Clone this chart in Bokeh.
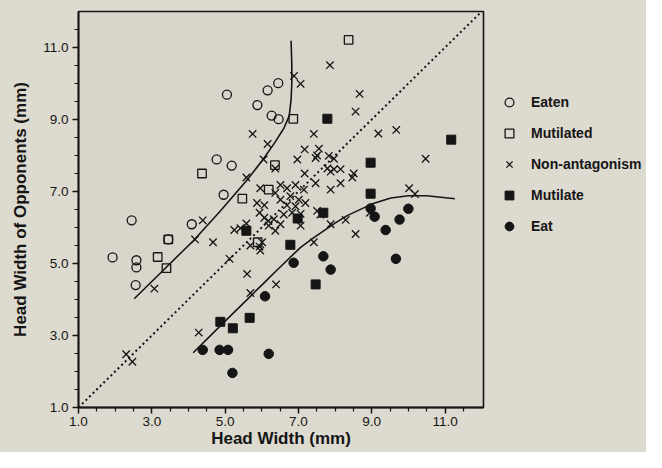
from bokeh.plotting import figure
from bokeh.layouts import row
from bokeh.models import Legend, LegendItem, FixedTicker, PrintfTickFormatter, Range1d
from bokeh.embed import file_html
from bokeh.resources import INLINE

# ---------------- data ----------------
eaten_x = [1.93, 2.45, 2.58, 2.58, 2.56, 3.45, 4.09, 4.77, 5.18, 4.96, 5.05, 5.88, 6.16, 6.45, 6.27, 6.46]
eaten_y = [5.17, 6.20, 5.09, 4.89, 4.40, 5.67, 6.09, 7.89, 7.72, 6.91, 9.69, 9.40, 9.81, 10.01, 9.11, 9.01]

mutilated_x = [3.16, 3.40, 3.45, 4.37, 5.47, 5.89, 6.19, 6.36, 6.86, 8.37]
mutilated_y = [5.18, 4.87, 5.67, 7.50, 6.80, 5.59, 7.05, 7.73, 9.02, 11.21]

nonant_x = [2.30, 2.47, 3.07, 4.18, 4.39, 4.67, 4.28, 5.12, 5.60, 5.69, 6.39, 5.94, 5.25, 5.42,
            5.58, 5.94, 6.07, 6.33, 6.18, 5.75, 6.16, 6.05, 6.37, 5.58, 7.42, 7.17, 6.97, 7.47,
            7.51, 7.83, 7.97, 7.79, 7.97, 7.17, 7.47, 7.88, 5.96, 6.37, 6.51, 6.69, 6.92, 7.15,
            6.78, 7.01, 6.51, 6.69, 6.92, 7.19, 6.83, 7.06, 6.60, 5.87, 6.51, 6.37, 6.07, 5.69,
            6.01, 5.96, 7.06, 7.60, 7.42, 7.88, 7.86, 6.88, 7.06, 8.67, 8.56, 9.18, 9.67, 7.56,
            7.88, 8.15, 8.51, 8.47, 8.15, 10.47, 10.02, 10.18, 7.51, 8.29, 8.56, 8.95, 6.19]
nonant_y = [2.48, 2.27, 4.30, 5.67, 6.20, 5.59, 3.08, 5.13, 4.71, 4.18, 4.42, 5.47, 5.93, 5.98,
            6.11, 6.41, 6.62, 6.23, 6.18, 8.60, 8.32, 7.89, 7.64, 7.39, 8.60, 8.17, 7.89, 7.93,
            8.00, 7.99, 7.91, 7.64, 7.62, 7.50, 7.23, 7.05, 7.09, 6.96, 7.18, 7.09, 7.18, 7.05,
            6.87, 6.77, 6.77, 6.62, 6.59, 6.68, 6.41, 6.38, 6.36, 6.68, 6.09, 5.91, 6.27, 5.50,
            5.59, 5.36, 6.05, 6.36, 5.59, 6.09, 10.51, 10.21, 9.99, 9.71, 9.22, 8.61, 8.71, 8.19,
            7.55, 7.62, 7.50, 7.39, 7.23, 7.91, 7.09, 6.93, 6.46, 6.21, 5.82, 6.41, 6.05]

mutilate_x = [4.87, 5.21, 5.67, 5.58, 6.78, 6.98, 7.47, 7.68, 7.79, 8.97, 8.97, 11.17]
mutilate_y = [3.38, 3.20, 3.49, 5.91, 5.52, 6.25, 4.42, 6.41, 9.02, 7.80, 6.94, 8.44]

eat_x = [4.39, 4.85, 5.08, 5.20, 6.19, 6.09, 6.87, 7.68, 7.88, 8.97, 9.08, 9.38, 9.76, 10.00, 9.66]
eat_y = [2.60, 2.60, 2.60, 1.96, 2.49, 4.09, 5.02, 5.20, 4.83, 6.53, 6.30, 5.93, 6.22, 6.52, 5.13]

upper_curve_x = [2.52, 3.30, 4.14, 4.87, 5.60, 6.05, 6.35, 6.60, 6.75, 6.80, 6.82, 6.82, 6.80]
upper_curve_y = [4.02, 4.80, 5.64, 6.46, 7.32, 7.91, 8.35, 8.75, 9.10, 9.55, 10.0, 10.5, 11.19]

lower_curve_x = [4.13, 5.00, 6.00, 6.51, 7.06, 7.42, 8.00, 8.33, 9.00, 9.52, 10.00, 10.50, 11.27]
lower_curve_y = [2.52, 3.40, 4.40, 4.91, 5.45, 5.72, 6.12, 6.33, 6.65, 6.82, 6.88, 6.88, 6.80]

diag_x = [1.0, 12.0]
diag_y = [1.0, 12.0]

major_ticks = [1.0, 3.0, 5.0, 7.0, 9.0, 11.0]
minor_ticks = [1.5, 2.0, 2.5, 3.5, 4.0, 4.5, 5.5, 6.0, 6.5, 7.5, 8.0, 8.5, 9.5, 10.0, 10.5, 11.5]

series_labels = ["Eaten", "Mutilated", "Non-antagonism", "Mutilate", "Eat"]

# ---------------- figure ----------------
INK = "#151515"
FONT = "Liberation Sans"
PAPER = "#dddacf"

p = figure(width=493, height=452, output_backend="svg", toolbar_location=None,
           x_range=Range1d(1.0, 12.05), y_range=Range1d(1.0, 12.0),
           min_border_left=78, min_border_right=10, min_border_top=11, min_border_bottom=45)
p.background_fill_color = "#d8d5ca"
p.border_fill_color = PAPER
p.outline_line_color = INK
p.outline_line_width = 1.6
p.xgrid.visible = False
p.ygrid.visible = False

for ax in (p.xaxis[0], p.yaxis[0]):
    ax.ticker = FixedTicker(ticks=major_ticks, minor_ticks=minor_ticks)
    ax.formatter = PrintfTickFormatter(format="%.1f")
    ax.axis_line_color = INK
    ax.axis_line_width = 1.8
    ax.major_tick_line_color = INK
    ax.major_tick_line_width = 1.5
    ax.minor_tick_line_color = INK
    ax.minor_tick_line_width = 1.2
    ax.major_tick_out = 6
    ax.major_tick_in = 0
    ax.minor_tick_out = 4
    ax.minor_tick_in = 0
    ax.major_label_text_font = FONT
    ax.major_label_text_font_size = "13.5px"
    ax.major_label_text_color = INK
    ax.axis_label_text_font = FONT
    ax.axis_label_text_font_style = "bold"
    ax.axis_label_text_font_size = "17px"
    ax.axis_label_text_color = INK

p.xaxis.axis_label = "Head Width (mm)"
p.yaxis.axis_label = "Head Width of Opponents (mm)"
p.xaxis.major_label_standoff = 3
p.xaxis.axis_label_standoff = 0
p.yaxis.major_label_standoff = 4
p.yaxis.axis_label_standoff = 10

# lines
p.line(diag_x, diag_y, line_color=INK, line_width=2, line_dash="2 3")
p.line(upper_curve_x, upper_curve_y, line_color=INK, line_width=1.6)
p.line(lower_curve_x, lower_curve_y, line_color=INK, line_width=1.6)

# marker styles
styles = [
    dict(marker="circle", size=9, fill_alpha=0, line_color=INK, line_width=1.3),
    dict(marker="square", size=8.5, fill_alpha=0, line_color=INK, line_width=1.3),
    dict(marker="x", size=10.5, line_color=INK, line_width=1.3),
    dict(marker="square", size=9, fill_color=INK, line_color=INK, line_width=1),
    dict(marker="circle", size=9.5, fill_color=INK, line_color=INK, line_width=1),
]
series = [(eaten_x, eaten_y), (mutilated_x, mutilated_y), (nonant_x, nonant_y),
          (mutilate_x, mutilate_y), (eat_x, eat_y)]
for (xs, ys), st in zip(series, styles):
    p.scatter(xs, ys, **st)

# ---------------- legend panel (its range shows none of the points) ----------------
lg = figure(width=153, height=452, output_backend="svg", toolbar_location=None,
            x_range=Range1d(100, 101), y_range=Range1d(100, 101),
            min_border_left=0, min_border_right=0, min_border_top=0, min_border_bottom=0,
            x_axis_location=None, y_axis_location=None)
lg.background_fill_color = PAPER
lg.border_fill_color = PAPER
lg.outline_line_color = None
lg.xgrid.visible = False
lg.ygrid.visible = False

items = []
for lab, (xs, ys), st in zip(series_labels, series, styles):
    r = lg.scatter(xs, ys, **st)
    items.append(LegendItem(label=lab, renderers=[r]))

legend = Legend(items=items, location=(5, 170))
legend.padding = 0
legend.margin = 0
legend.spacing = 9
legend.glyph_width = 22
legend.glyph_height = 22
legend.label_height = 22
legend.label_standoff = 11
legend.label_text_font = FONT
legend.label_text_font_style = "bold"
legend.label_text_font_size = "14px"
legend.label_text_color = INK
legend.border_line_alpha = 0
legend.background_fill_alpha = 0
lg.add_layout(legend)

layout = row(p, lg, spacing=0, styles={"background-color": PAPER})
open("out.html", "w").write(file_html(layout, INLINE))
